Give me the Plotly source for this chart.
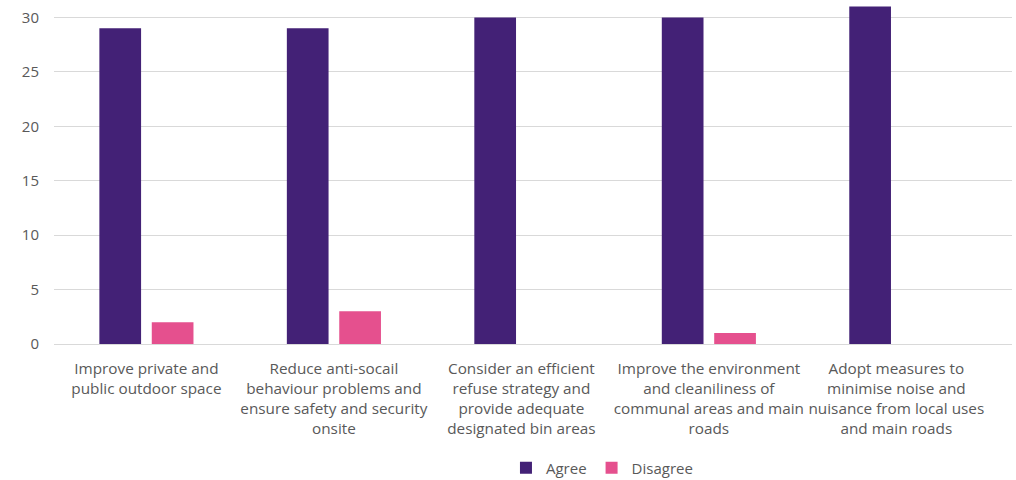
import plotly.graph_objects as go

categories = [
    "Improve private and<br>public outdoor space",
    "Reduce anti-socail<br>behaviour problems and<br>ensure safety and security<br>onsite",
    "Consider an efficient<br>refuse strategy and<br>provide adequate<br>designated bin areas",
    "Improve the environment<br>and cleaniliness of<br>communal areas and main<br>roads",
    "Adopt measures to<br>minimise noise and<br>nuisance from local uses<br>and main roads",
]
agree = [29, 29, 30, 30, 31]
disagree = [2, 3, 0, 1, 0]
tick_vals = [0, 5, 10, 15, 20, 25, 30]

fig = go.Figure()
fig.add_trace(go.Bar(x=categories, y=agree, name="Agree",
                     marker=dict(color="#432176", line=dict(width=0))))
fig.add_trace(go.Bar(x=categories, y=disagree, name="Disagree",
                     marker=dict(color="#E5508E", line=dict(width=0))))

fig.update_layout(
    width=1016, height=480,
    margin=dict(l=54, r=4, t=0, b=136),
    paper_bgcolor="white", plot_bgcolor="white",
    barmode="group", bargap=0.441, bargroupgap=0.204,
    font=dict(family="Open Sans, sans-serif", size=15, color="#595959"),
    showlegend=True,
    legend=dict(orientation="h", xref="container", yref="container",
                x=0.498, xanchor="left", y=0.025, yanchor="middle",
                font=dict(size=15, color="#595959"), traceorder="normal"),
)
fig.update_yaxes(range=[0, 31.6], tickvals=tick_vals, showgrid=True, gridcolor="#D9D9D9",
                 gridwidth=1, zeroline=True, zerolinecolor="#D9D9D9", zerolinewidth=1,
                 showline=False, ticks="", tickfont=dict(size=15, color="#595959"),
                 ticklabelstandoff=14, automargin=False)
fig.update_xaxes(range=[-0.493, 4.617], showgrid=False, showline=False, ticks="",
                 tickfont=dict(size=15.3, color="#595959"),
                 ticklabelstandoff=14, automargin=False)

fig.write_html("out.html", config={"displayModeBar": False},
               post_script="document.body.style.margin='0';")
